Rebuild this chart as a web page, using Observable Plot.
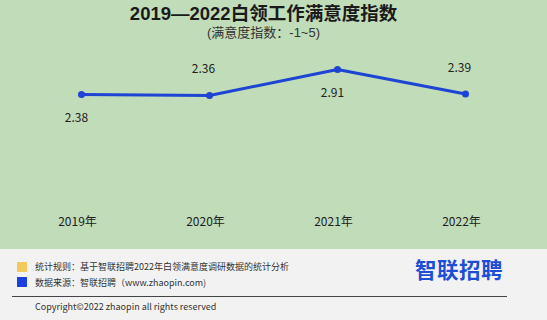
<!DOCTYPE html>
<html><head><meta charset="utf-8">
<script src="https://cdn.jsdelivr.net/npm/d3@7"></script>
<script src="https://cdn.jsdelivr.net/npm/@observablehq/plot@0.6"></script>
<style>
html,body{margin:0;padding:0;}
body{width:547px;height:320px;overflow:hidden;font-family:"Noto Sans CJK SC","Noto Sans",sans-serif;}
#wrap{position:relative;width:547px;height:320px;background:#f2f2f2;}
#top{position:absolute;left:0;top:0;width:547px;height:249px;background:#c1dcb9;}
#chart{position:absolute;left:0;top:0;}
.t{position:absolute;white-space:nowrap;font-family:"Liberation Sans","Noto Sans CJK SC",sans-serif;}
#title{left:0;width:527px;text-align:center;top:3px;font-size:18.5px;font-weight:bold;color:#1a1a1a;line-height:21px;}
#sub{left:0;width:527px;text-align:center;top:25px;font-size:13px;color:#333;line-height:16px;}
.sq{position:absolute;width:10px;height:10px;}
.ft{position:absolute;left:35px;font-size:9px;color:#333;line-height:12px;white-space:nowrap;}
#rule{position:absolute;left:12px;width:495px;top:296px;height:1px;background:#444;}
#logo{position:absolute;left:415px;top:255px;font-size:21.5px;font-weight:bold;color:#1c4fd6;letter-spacing:0.5px;line-height:28px;}
</style></head>
<body>
<div id="wrap">
<div id="top"></div>
<div id="chart"></div>
<div class="t" id="title">2019—2022白领工作满意度指数</div>
<div class="t" id="sub">(满意度指数：-1~5)</div>
<div class="sq" style="left:17px;top:262px;background:#f3c95c;"></div>
<div class="sq" style="left:17px;top:277px;background:#1c3fe0;"></div>
<div class="ft" style="top:261px;">统计规则：基于智联招聘2022年白领满意度调研数据的统计分析</div>
<div class="ft" style="top:277px;">数据来源：智联招聘（www.zhaopin.com)</div>
<div id="rule"></div>
<div class="ft" style="top:301px;">Copyright©2022 zhaopin all rights reserved</div>
<div id="logo">智联招聘</div>
</div>
<script>
const years = ["2019年", "2020年", "2021年", "2022年"];
const values = [2.38, 2.36, 2.91, 2.39];
const labels = ["2.38", "2.36", "2.91", "2.39"];

const data = years.map((y, i) => ({year: y, value: values[i], label: labels[i], i}));

const chart = Plot.plot({
  width: 547,
  height: 249,
  marginLeft: 80,
  marginRight: 81,
  marginTop: 17.6,
  marginBottom: 42.7,
  style: {background: "transparent", fontFamily: "'Noto Sans CJK SC', sans-serif", fontSize: "12px", color: "#222"},
  x: {type: "point", domain: years, padding: 0},
  y: {domain: [0, 4], axis: null},
  marks: [
    Plot.axisX({tickSize: 0, tickPadding: 11, fontSize: 12, fill: "#222", label: null, dx: -4}),
    Plot.line(data, {x: "year", y: "value", stroke: "#1d44d2", strokeWidth: 3}),
    Plot.dot(data, {x: "year", y: "value", r: 3.5, fill: "#1d44d2"}),
    Plot.text(data.filter(d => d.i % 2 === 0), {x: "year", y: "value", text: "label", dy: 24, dx: -5, fontSize: 12, fill: "#222"}),
    Plot.text(data.filter(d => d.i % 2 === 1), {x: "year", y: "value", text: "label", dy: -26, dx: -6, fontSize: 12, fill: "#222"})
  ]
});
document.getElementById("chart").appendChild(chart);
</script>
</body></html>
